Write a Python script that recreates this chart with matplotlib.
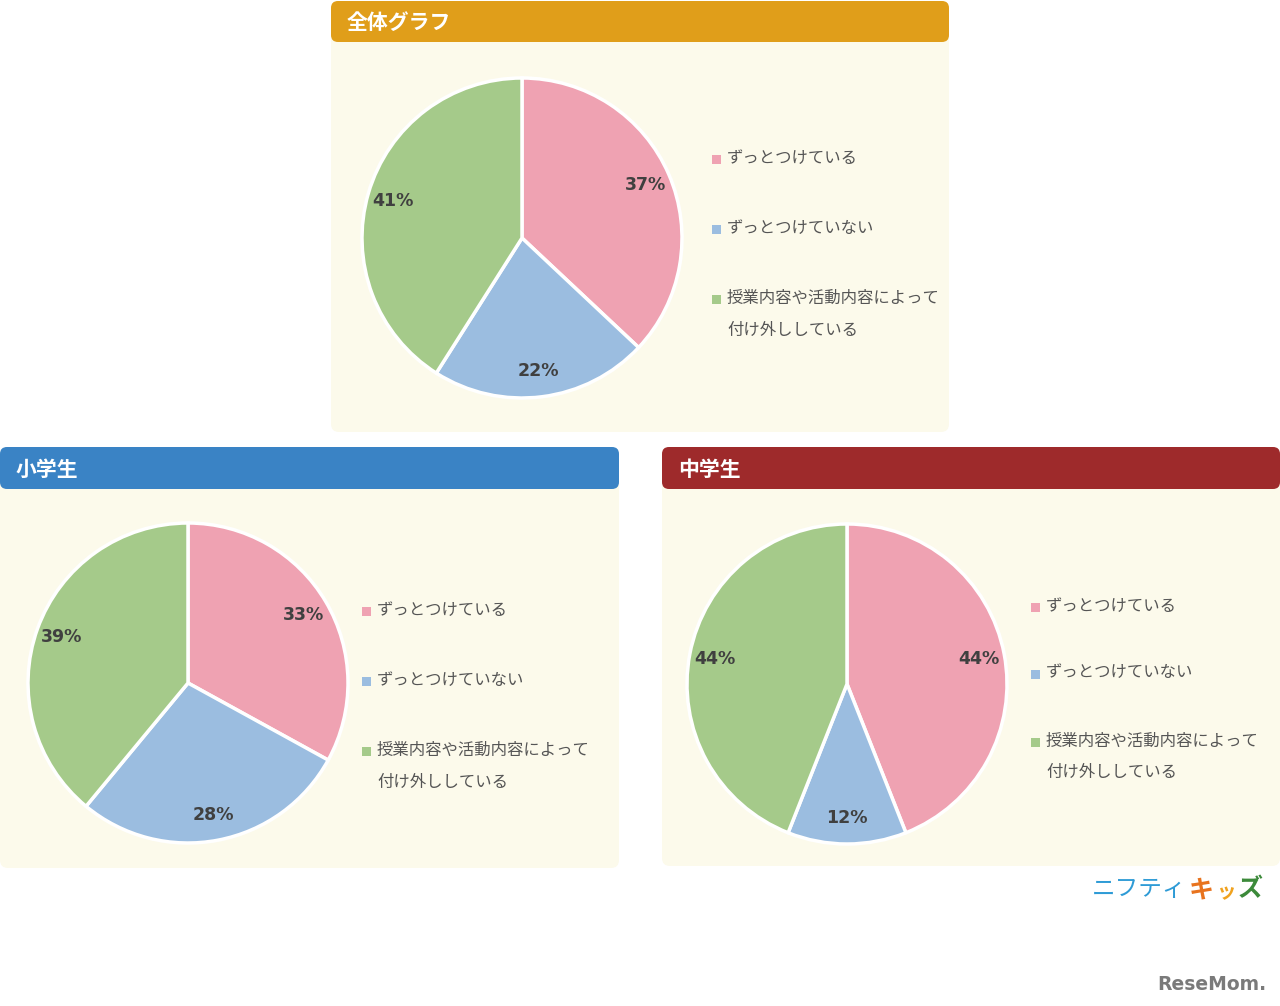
import matplotlib
matplotlib.use("Agg")
import matplotlib.pyplot as plt
from matplotlib.patches import FancyBboxPatch, Rectangle

plt.rcParams['font.family'] = ['Noto Sans CJK JP', 'DejaVu Sans']

# データ
labels = ['ずっとつけている', 'ずっとつけていない', '授業内容や活動内容によって\n付け外ししている']
titles = ['全体グラフ', '小学生', '中学生']
values_all = [37, 22, 41]
values_elem = [33, 28, 39]
values_jhs = [44, 12, 44]
colors = ['#EFA2B2', '#9BBDE0', '#A5CA8A']
header_colors = ['#E09E1A', '#3A83C5', '#9E2A2B']

W, H = 1280, 1006
fig = plt.figure(figsize=(W / 100, H / 100), dpi=100)
bg = fig.add_axes([0, 0, 1, 1])
bg.set_xlim(0, W)
bg.set_ylim(H, 0)
bg.axis('off')

# パネル配置（x0, x1, ヘッダー上端, ヘッダー下端, 本体下端, 円の中心x, 中心y, 凡例x, 凡例y, 2行目の間隔）
panels = [
    (331, 949, 1, 42, 432, 522, 238, 716, [157, 227, 297], 33),
    (0, 619, 447, 489, 868, 188, 683, 366, [609, 679, 749], 33),
    (662, 1280, 447, 489, 866, 847, 684, 1035, [605, 672, 740], 31),
]
datasets = [values_all, values_elem, values_jhs]
R = 160

for (x0, x1, hy0, hy1, by1, cx, cy, lx, lys, gap), title, hc, vals in zip(panels, titles, header_colors, datasets):
    # 本体
    bg.add_patch(FancyBboxPatch((x0 + 8, hy0 + 8), x1 - x0 - 16, by1 - hy0 - 16,
                                boxstyle='round,pad=8', fc='#FCFAEB', ec='none'))
    # ヘッダー
    bg.add_patch(FancyBboxPatch((x0 + 7, hy0 + 7), x1 - x0 - 14, hy1 - hy0 - 14,
                                boxstyle='round,pad=7', fc=hc, ec='none'))
    bg.text(x0 + 16, (hy0 + hy1) / 2 + 1, title, color='white', fontsize=15,
            fontweight='bold', va='center', ha='left')

    # 円グラフ
    ax = fig.add_axes([(cx - R) / W, 1 - (cy + R) / H, 2 * R / W, 2 * R / H])
    wedges, _, autotexts = ax.pie(vals, colors=colors, startangle=90, counterclock=False,
                                  autopct='%d%%', pctdistance=0.84,
                                  wedgeprops=dict(edgecolor='white', linewidth=2.5))
    for t in autotexts:
        t.set_family('DejaVu Sans')
        t.set_fontweight('bold')
        t.set_fontsize(12.5)
        t.set_color('#404040')
    ax.set_xlim(-1.0, 1.0)
    ax.set_ylim(-1.0, 1.0)
    ax.axis('off')

    # 凡例
    for lab, col, ly in zip(labels, colors, lys):
        bg.add_patch(Rectangle((lx - 4.5, ly - 2.5), 9, 9, fc=col, ec='none'))
        for i, line in enumerate(lab.split('\n')):
            bg.text(lx + 11, ly + 1 + i * gap, line, color='#555555', fontsize=11.8,
                    va='center', ha='left')

# ロゴ
bg.text(1092, 890, 'ニフティ', color='#2E9BD6', fontsize=17, va='center', ha='left')
bg.text(1189, 890, 'キ', color='#E8731E', fontsize=18, fontweight='bold', va='center', ha='left')
bg.text(1216, 893, 'ッ', color='#F0A21E', fontsize=14, fontweight='bold', va='center', ha='left')
bg.text(1238, 889, 'ズ', color='#3C8A3A', fontsize=18, fontweight='bold', va='center', ha='left')
bg.text(1266, 984, 'ReseMom.', color='#7A7A7A', fontsize=13.5, fontweight='bold', va='center',
        ha='right', family='DejaVu Sans')

fig.savefig('out.png', dpi=100, facecolor='white')
